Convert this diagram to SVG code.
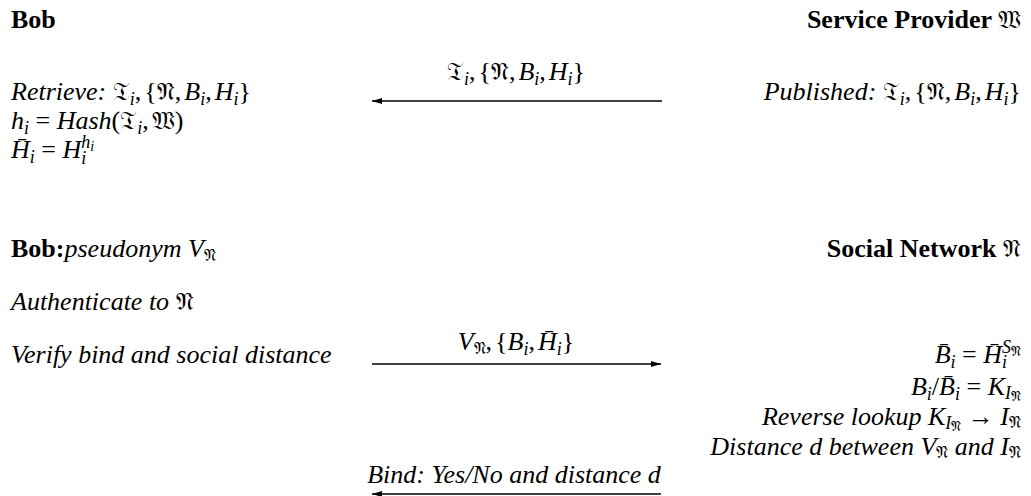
<svg xmlns="http://www.w3.org/2000/svg" width="1031" height="496" viewBox="0 0 1031 496">
<style>
.t{font-family:"Liberation Serif","DejaVu Serif",serif;font-size:26px;fill:#000}
.i{font-style:italic}
.b{font-weight:bold}
.fr{font-family:"DejaVu Serif","DejaVu Sans",serif;font-style:normal;font-weight:normal;font-size:25px}
.s{font-size:18px}
.fs{font-family:"DejaVu Serif","DejaVu Sans",serif;font-style:normal;font-weight:normal;font-size:17px}
.ss{font-size:14px}
.ln{stroke:#000;stroke-width:1.6;fill:none}
</style>
<defs>
<marker id="ah" viewBox="0 0 10 8" refX="10" refY="4" markerWidth="10" markerHeight="8" markerUnits="userSpaceOnUse" orient="auto">
<path d="M0,1 L10,4 L0,7 Z" fill="#000"/>
</marker>
</defs>
<rect width="1031" height="496" fill="#fff"/>

<g id="bob">
<text class="t b" x="11" y="28">Bob</text>
<text class="t" x="11" y="100"><tspan class="i">Retrieve: </tspan><tspan class="fr">𝔗</tspan><tspan class="i s" dy="5">i</tspan><tspan dy="-5">,</tspan><tspan dx="3">{</tspan><tspan class="fr">𝔑</tspan>,<tspan class="i" dx="3">B</tspan><tspan class="i s" dy="5">i</tspan><tspan dy="-5">,</tspan><tspan class="i" dx="3">H</tspan><tspan class="i s" dy="5">i</tspan><tspan dy="-5">}</tspan></text>
<text class="t" x="11" y="129"><tspan class="i">h</tspan><tspan class="i s" dy="5">i</tspan><tspan dy="-5"> = </tspan><tspan class="i">Hash</tspan>(<tspan class="fr">𝔗</tspan><tspan class="i s" dy="5">i</tspan><tspan dy="-5">,</tspan><tspan class="fr" dx="3">𝔚</tspan>)</text>
<text class="t" x="11" y="158"><tspan class="i">H̄</tspan><tspan class="i s" dy="5">i</tspan><tspan dy="-5"> = </tspan><tspan class="i">H</tspan><tspan class="i s" dy="6">i</tspan><tspan class="i s" dx="-5" dy="-16">h</tspan><tspan class="i ss" dy="3">i</tspan></text>
</g>

<g id="service-provider">
<text class="t b" x="1021" y="28" text-anchor="end">Service Provider <tspan class="fr">𝔚</tspan></text>
<text class="t" x="1021" y="100" text-anchor="end"><tspan class="i">Published: </tspan><tspan class="fr">𝔗</tspan><tspan class="i s" dy="5">i</tspan><tspan dy="-5">,</tspan><tspan dx="3">{</tspan><tspan class="fr">𝔑</tspan>,<tspan class="i" dx="3">B</tspan><tspan class="i s" dy="5">i</tspan><tspan dy="-5">,</tspan><tspan class="i" dx="3">H</tspan><tspan class="i s" dy="5">i</tspan><tspan dy="-5">}</tspan></text>
</g>

<g id="bob-pseudonym">
<text class="t" x="11" y="257"><tspan class="b">Bob:</tspan><tspan class="i">pseudonym V</tspan><tspan class="fs" dy="4">𝔑</tspan></text>
<text class="t i" x="11" y="310">Authenticate to <tspan class="fr">𝔑</tspan></text>
<text class="t i" x="11" y="363">Verify bind and social distance</text>
</g>

<g id="social-network">
<text class="t b" x="1021" y="257" text-anchor="end">Social Network <tspan class="fr">𝔑</tspan></text>
<text class="t" x="1021" y="363" text-anchor="end"><tspan class="i">B̄</tspan><tspan class="i s" dy="5">i</tspan><tspan dy="-5"> = </tspan><tspan class="i">H̄</tspan><tspan class="i s" dy="5">i</tspan><tspan class="i s" dx="-5" dy="-15">S</tspan><tspan class="fs ss" dy="3">𝔑</tspan></text>
<text class="t" x="1021" y="395" text-anchor="end"><tspan class="i">B</tspan><tspan class="i s" dy="5">i</tspan><tspan dy="-5">/</tspan><tspan class="i">B̄</tspan><tspan class="i s" dy="5">i</tspan><tspan dy="-5"> = </tspan><tspan class="i">K</tspan><tspan class="i s" dy="4">I</tspan><tspan class="fs ss" dy="2">𝔑</tspan></text>
<text class="t" x="1021" y="425" text-anchor="end"><tspan class="i">Reverse lookup K</tspan><tspan class="i s" dy="4">I</tspan><tspan class="fs ss" dy="2">𝔑</tspan><tspan dy="-6"> → </tspan><tspan class="i">I</tspan><tspan class="fs" dy="3">𝔑</tspan></text>
<text class="t" x="1021" y="455" text-anchor="end"><tspan class="i">Distance d between V</tspan><tspan class="fs" dy="3">𝔑</tspan><tspan class="i" dy="-3"> and I</tspan><tspan class="fs" dy="3">𝔑</tspan></text>
</g>

<g id="connectors">
<line class="ln" x1="662" y1="101" x2="372" y2="101" marker-end="url(#ah)"/>
<text class="t" x="516" y="80" text-anchor="middle"><tspan class="fr">𝔗</tspan><tspan class="i s" dy="5">i</tspan><tspan dy="-5">,</tspan><tspan dx="3">{</tspan><tspan class="fr">𝔑</tspan>,<tspan class="i" dx="3">B</tspan><tspan class="i s" dy="5">i</tspan><tspan dy="-5">,</tspan><tspan class="i" dx="3">H</tspan><tspan class="i s" dy="5">i</tspan><tspan dy="-5">}</tspan></text>
<line class="ln" x1="372" y1="364" x2="661" y2="364" marker-end="url(#ah)"/>
<text class="t" x="516" y="350" text-anchor="middle"><tspan class="i">V</tspan><tspan class="fs" dy="4">𝔑</tspan><tspan dy="-4">,</tspan><tspan dx="3">{</tspan><tspan class="i">B</tspan><tspan class="i s" dy="5">i</tspan><tspan dy="-5">,</tspan><tspan class="i" dx="3">H̄</tspan><tspan class="i s" dy="5">i</tspan><tspan dy="-5">}</tspan></text>
<line class="ln" x1="661" y1="494" x2="372" y2="494" marker-end="url(#ah)"/>
<text class="t i" x="514" y="483" text-anchor="middle">Bind: Yes/No and distance d</text>
</g>
</svg>
